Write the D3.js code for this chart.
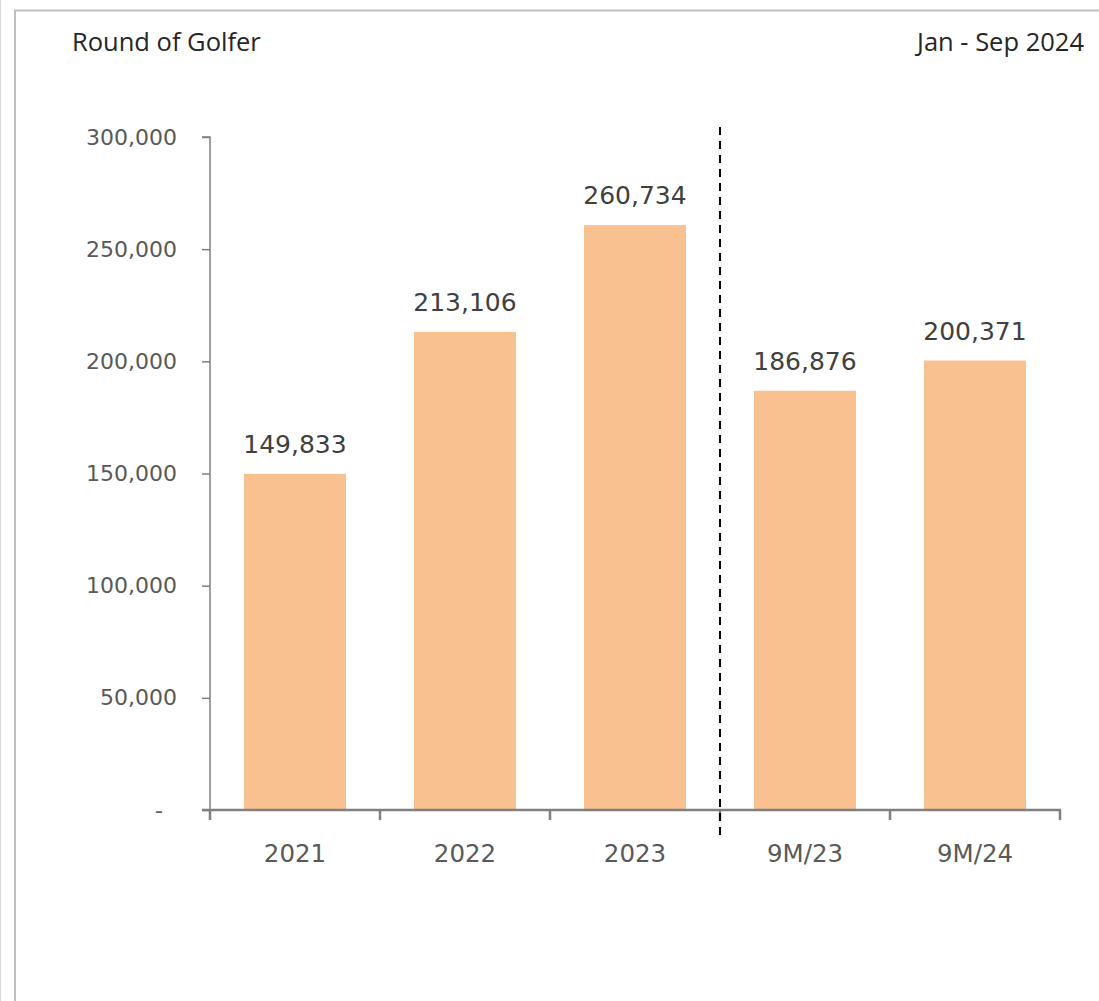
<!DOCTYPE html>
<html>
<head>
<meta charset="utf-8">
<script src="https://cdn.jsdelivr.net/npm/d3@7"></script>
<style>
  html, body { margin: 0; padding: 0; background: #fff; }
  svg { display: block; }
</style>
</head>
<body>
<svg id="chart" width="1099" height="1001"></svg>
<script>
// Rounds played by golfers, full years and first nine months
const categories = ["2021", "2022", "2023", "9M/23", "9M/24"];
const rounds = [149833, 213106, 260734, 186876, 200371];
const yTicks = [0, 50000, 100000, 150000, 200000, 250000, 300000];
const title = "Round of Golfer";
const period = "Jan - Sep 2024";

const svg = d3.select("#chart");
const W = 1099, H = 1001;
const m = { left: 210, right: 1060, top: 137, bottom: 810 };

// Frame lines
svg.append("line").attr("x1", 0.5).attr("x2", 0.5).attr("y1", 0).attr("y2", H)
  .attr("stroke", "#d9d9d9").attr("stroke-width", 1);
svg.append("path").attr("d", `M15,${H} V10.5 H${W}`)
  .attr("fill", "none").attr("stroke", "#c0c0c0").attr("stroke-width", 2);

const x = d3.scaleBand().domain(categories).range([m.left, m.right]).paddingInner(0.4).paddingOuter(0.2);
const y = d3.scaleLinear().domain([0, 300000]).range([m.bottom, m.top]);

// Bars
svg.selectAll("rect.bar").data(rounds).join("rect")
  .attr("class", "bar")
  .attr("x", (d, i) => x(categories[i]))
  .attr("width", x.bandwidth())
  .attr("y", d => y(d))
  .attr("height", d => y(0) - y(d))
  .attr("fill", "#F9C090");

// Value labels
svg.selectAll("text.val").data(rounds).join("text")
  .attr("class", "val")
  .attr("x", (d, i) => x(categories[i]) + x.bandwidth() / 2)
  .attr("y", d => y(d) - 21)
  .attr("text-anchor", "middle")
  .attr("font-family", "DejaVu Sans")
  .attr("font-size", 25)
  .attr("fill", "#404040")
  .text(d => d3.format(",")(d));

// Y axis
const yAxis = d3.axisLeft(y).tickValues(yTicks).tickSize(8).tickPadding(25)
  .tickFormat(d => d === 0 ? "-" : d3.format(",")(d));
const gy = svg.append("g").attr("transform", `translate(${m.left},0)`).call(yAxis);
gy.select(".domain").attr("stroke", "#808080").attr("stroke-width", 1.5)
  .attr("d", `M${-8},${m.top}H0V${m.bottom}`);
gy.selectAll(".tick line").attr("stroke", "#808080").attr("stroke-width", 1.5);
gy.selectAll(".tick text").attr("font-family", "DejaVu Sans").attr("font-size", 22)
  .attr("fill", "#595959");
gy.selectAll(".tick").filter(d => d === 0).select("text").attr("dx", -14);

// X axis with boundary ticks between categories
const xb = d3.scaleLinear().domain([0, categories.length]).range([m.left, m.right]);
const gx = svg.append("g");
gx.append("line").attr("x1", m.left - 8).attr("x2", m.right + 1).attr("y1", m.bottom).attr("y2", m.bottom)
  .attr("stroke", "#808080").attr("stroke-width", 2.5);
gx.selectAll("line.tk").data(d3.range(categories.length + 1)).join("line")
  .attr("class", "tk")
  .attr("x1", d => xb(d)).attr("x2", d => xb(d))
  .attr("y1", m.bottom).attr("y2", m.bottom + 10)
  .attr("stroke", "#808080").attr("stroke-width", 2.5);
gx.selectAll("text").data(categories).join("text")
  .attr("x", d => x(d) + x.bandwidth() / 2)
  .attr("y", m.bottom + 52)
  .attr("text-anchor", "middle")
  .attr("font-family", "DejaVu Sans")
  .attr("font-size", 24.5)
  .attr("fill", "#595959")
  .text(d => d);

// Divider between full-year and nine-month figures
svg.append("line")
  .attr("x1", xb(3)).attr("x2", xb(3))
  .attr("y1", 127).attr("y2", 836)
  .attr("stroke", "#000").attr("stroke-width", 2)
  .attr("stroke-dasharray", "8,6");

// Titles
svg.append("text").attr("x", 72).attr("y", 51)
  .attr("font-family", "Open Sans").attr("font-size", 25.5).attr("fill", "#262626")
  .text(title);
svg.append("text").attr("x", 1084).attr("y", 51).attr("text-anchor", "end")
  .attr("font-family", "Open Sans").attr("font-size", 25.5).attr("fill", "#262626")
  .text(period);
</script>
</body>
</html>
